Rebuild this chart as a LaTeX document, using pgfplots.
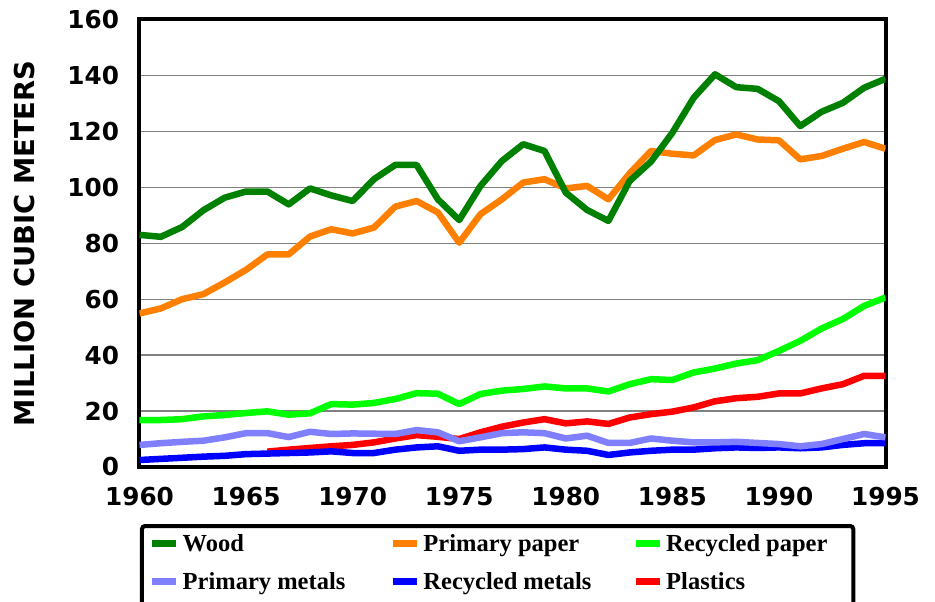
\documentclass[border=0pt]{standalone}
\usepackage{fontspec}
\setmainfont{Liberation Serif}
\newfontfamily\tickfont{DejaVu Sans}
\usepackage{pgfplots}
\usepackage{pgfplotstable}
\pgfplotsset{compat=1.18}
\usetikzlibrary{calc}

\definecolor{wood}{RGB}{0,128,0}
\definecolor{ppaper}{RGB}{255,128,0}
\definecolor{rpaper}{RGB}{0,255,0}
\definecolor{pmetal}{RGB}{128,128,255}
\definecolor{rmetal}{RGB}{0,0,255}
\definecolor{plastic}{RGB}{255,0,0}

\pgfplotstableread{
year wood  ppaper rpaper pmetal rmetal plastic
1960 83.0  54.9   16.8   7.9    2.5    nan
1961 82.3  56.7   16.8   8.5    2.9    nan
1962 85.8  60.0   17.1   9.0    3.3    nan
1963 91.8  61.8   18.1   9.4    3.7    nan
1964 96.3  66.0   18.6   10.6   4.0    nan
1965 98.5  70.5   19.3   12.1   4.6    nan
1966 98.5  76.0   19.9   12.1   4.8    5.5
1967 93.9  76.0   18.7   10.7   5.0    6.2
1968 99.6  82.4   19.2   12.6   5.2    6.8
1969 97.1  85.0   22.5   11.8   5.6    7.4
1970 95.1  83.5   22.3   12.0   5.0    7.9
1971 102.9 85.6   22.9   11.9   5.0    8.8
1972 108.0 93.1   24.3   11.8   6.2    10.2
1973 108.0 95.1   26.4   13.2   7.0    11.4
1974 95.7  91.0   26.2   12.4   7.4    10.8
1975 88.3  80.2   22.5   9.2    5.8    10.0
1976 100.5 90.4   26.1   10.6   6.2    12.4
1977 109.4 95.7   27.3   12.1   6.2    14.4
1978 115.4 101.7  27.9   12.4   6.4    15.9
1979 113.0 102.9  28.8   12.1   7.0    17.1
1980 98.1  99.6   28.1   10.2   6.2    15.6
1981 91.9  100.5  28.1   11.2   5.8    16.3
1982 88.0  95.7   27.0   8.6    4.3    15.4
1983 102.3 105.0  29.6   8.6    5.2    17.7
1984 109.2 113.0  31.4   10.2   5.8    18.9
1985 119.5 112.0  31.1   9.4    6.2    19.8
1986 132.0 111.4  33.8   8.8    6.2    21.3
1987 140.4 116.9  35.2   8.8    6.7    23.5
1988 135.8 118.9  37.0   9.0    7.0    24.6
1989 135.2 117.1  38.2   8.6    6.8    25.1
1990 130.8 116.8  41.5   8.2    7.0    26.3
1991 121.9 110.0  45.1   7.4    6.7    26.3
1992 127.0 111.2  49.5   8.2    7.0    28.1
1993 130.2 113.8  52.9   10.0   7.9    29.6
1994 135.6 116.2  57.6   11.8   8.5    32.6
1995 138.8 113.8  60.6   10.6   8.5    32.6
}\datatable

\begin{document}
\begin{tikzpicture}
\begin{axis}[
    name=ax,
    scale only axis,
    width=746pt, height=447.5pt,
    xmin=1960, xmax=1995, ymin=0, ymax=160,
    xtick={1960,1965,...,1995},
    ytick={0,20,...,160},
    major tick length=0pt,
    ymajorgrids,
    major grid style={draw=gray, line width=1.3pt},
    axis line style={line width=4pt, black},
    /pgf/number format/assume math mode=true,
    xticklabel style={/pgf/number format/1000 sep={}, yshift=-17pt},
    yticklabel style={xshift=-17pt},
    ticklabel style={font=\tickfont\bfseries\fontsize{24.7}{26}\selectfont},
    ylabel={MILLION CUBIC METERS},
    ylabel style={at={(axis description cs:-0.1535,0.5)}, anchor=center,
        font=\tickfont\bfseries\fontsize{27.4}{29}\selectfont},
    every axis plot/.append style={line width=6.5pt, line join=round},
    legend image code/.code={
        \draw[#1, line width=7pt, line cap=butt] (0pt,0pt) -- (24pt,0pt);
        \path (27pt,0pt);
    },
    legend columns=3,
    legend cell align=left,
    legend style={
        at={(axis description cs:0,0)}, anchor=north west,
        xshift=0.5pt, yshift=-57pt,
        draw=black, line width=4pt, rounded corners=3pt,
        inner xsep=7pt, inner ysep=0pt,
        column sep=0pt, row sep=3pt,
        font=\bfseries\fontsize{24.5}{26}\selectfont,
        nodes={inner sep=0pt, text height=25.6pt, text depth=9.4pt},
    },
]
\addlegendimage{wood}   \addlegendentry{\makebox[207pt][l]{Wood}}
\addlegendimage{ppaper} \addlegendentry{\makebox[209pt][l]{Primary paper}}
\addlegendimage{rpaper} \addlegendentry{\makebox[180pt][l]{Recycled paper}}
\addlegendimage{pmetal} \addlegendentry{\makebox[207pt][l]{Primary metals}}
\addlegendimage{rmetal} \addlegendentry{\makebox[209pt][l]{Recycled metals}}
\addlegendimage{plastic}\addlegendentry{\makebox[180pt][l]{Plastics}}
\addlegendimage{empty legend}\addlegendentry{}

\addplot[plastic, forget plot] table[x=year, y=plastic] {\datatable};
\addplot[rmetal, forget plot]  table[x=year, y=rmetal]  {\datatable};
\addplot[pmetal, forget plot]  table[x=year, y=pmetal]  {\datatable};
\addplot[rpaper, forget plot]  table[x=year, y=rpaper]  {\datatable};
\addplot[ppaper, forget plot]  table[x=year, y=ppaper]  {\datatable};
\addplot[wood, forget plot]    table[x=year, y=wood]    {\datatable};
\end{axis}
\pgfresetboundingbox
\useasboundingbox ($(ax.south west)+(-139.5pt,-135pt)$) rectangle ($(ax.south west)+(795.5pt,467pt)$);
\end{tikzpicture}
\end{document}
